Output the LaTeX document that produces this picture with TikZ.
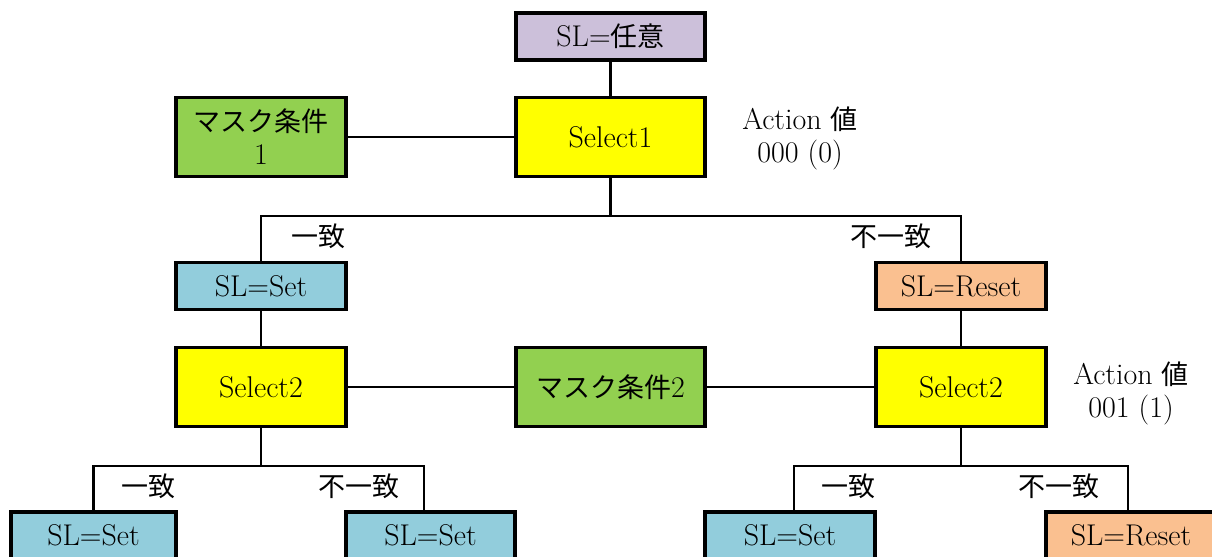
\documentclass[tikz,border=0pt]{standalone}
\usepackage{fontspec}
\newfontfamily\cjk[Scale=0.9]{Noto Sans CJK JP}
\definecolor{cLav}{HTML}{CCC0DA}
\definecolor{cYel}{HTML}{FFFF00}
\definecolor{cGrn}{HTML}{92D050}
\definecolor{cBlu}{HTML}{92CDDC}
\definecolor{cPch}{HTML}{FAC090}
\tikzset{
  box/.style={draw, line width=1.6pt, inner sep=0pt, align=center,
    font=\fontsize{15}{16.5}\selectfont},
  wide/.style={minimum width=94.5pt},
  narrow/.style={minimum width=85pt},
  low/.style={minimum height=23.5pt},
  tall/.style={minimum height=39.5pt},
  lbl/.style={inner sep=0pt, align=center, font=\fontsize{15}{16.5}\selectfont},
  conn/.style={line width=1.3pt},
}
\begin{document}
\begin{tikzpicture}[x=0.5pt,y=-0.5pt]
\useasboundingbox (0,0) rectangle (1212,557);
% boxes
\node[box,wide,low,fill=cLav] (top) at (610.5,36.5) {SL={\cjk 任意}};
\node[box,wide,tall,fill=cYel] (sel1) at (610.5,137) {Select1};
\node[box,narrow,tall,fill=cGrn] (mask1) at (261,137) {{\cjk マスク条件}\\1};
\node[lbl] (act1) at (800,138) {Action {\cjk 値}\\000 (0)};
\node[box,narrow,low,fill=cBlu] (setL) at (261,286) {SL=Set};
\node[box,narrow,low,fill=cPch] (resetR) at (961,286) {SL=Reset};
\node[box,narrow,tall,fill=cYel] (sel2L) at (261,387) {Select2};
\node[box,wide,tall,fill=cGrn] (mask2) at (610.5,387) {{\cjk マスク条件}2};
\node[box,narrow,tall,fill=cYel] (sel2R) at (961,387) {Select2};
\node[lbl] (act2) at (1131,393) {Action {\cjk 値}\\001 (1)};
\node[box,minimum width=82.5pt,low,fill=cBlu] (ll) at (93.5,535.5) {SL=Set};
\node[box,minimum width=84.5pt,low,fill=cBlu] (lr) at (430.5,535.5) {SL=Set};
\node[box,narrow,low,fill=cBlu] (rl) at (790,535.5) {SL=Set};
\node[box,narrow,low,fill=cPch] (rr) at (1131,535.5) {SL=Reset};
% labels
\node[lbl] (m1) at (318,236) {\cjk 一致};
\node[lbl] (n1) at (891,236) {\cjk 不一致};
\node[lbl] (m2) at (148,486) {\cjk 一致};
\node[lbl] (n2) at (359,486) {\cjk 不一致};
\node[lbl] (m3) at (848,486) {\cjk 一致};
\node[lbl] (n3) at (1059,486) {\cjk 不一致};
% junctions
\coordinate (j1) at (610.5,216);
\coordinate (j2) at (261,466);
\coordinate (j3) at (961,466);
% connectors
\draw[conn] (top) -- (sel1);
\draw[conn] (mask1) -- (sel1);
\draw[conn] (sel1.south) -- (j1);
\draw[conn] (setL.north) |- (j1) -| (resetR.north);
\draw[conn] (setL) -- (sel2L);
\draw[conn] (resetR) -- (sel2R);
\draw[conn] (sel2L) -- (mask2);
\draw[conn] (mask2) -- (sel2R);
\draw[conn] (sel2L.south) -- (j2);
\draw[conn] (ll.north) |- (j2) -| ([xshift=-3.25pt]lr.north);
\draw[conn] (sel2R.south) -- (j3);
\draw[conn] ([xshift=2pt]rl.north) |- (j3) -| ([xshift=-1.5pt]rr.north);
\end{tikzpicture}
\end{document}
